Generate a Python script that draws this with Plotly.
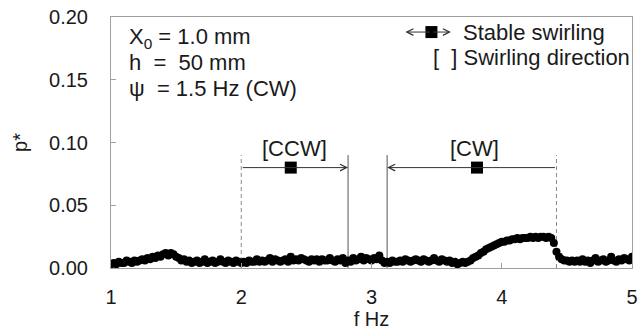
import plotly.graph_objects as go

# ---------------- data ----------------
f_start = 1.00
f_step = 0.02
p_star = [
    0.003, 0.004, 0.003, 0.005, 0.004, 0.004, 0.006, 0.005, 0.004, 0.006,
    0.005, 0.006, 0.007, 0.006, 0.008, 0.007, 0.009, 0.008, 0.010, 0.009,
    0.011, 0.012, 0.010, 0.012, 0.011, 0.009, 0.008, 0.006, 0.007, 0.005,
    0.006, 0.004, 0.005, 0.006, 0.004, 0.005, 0.007, 0.004, 0.005, 0.006,
    0.004, 0.005, 0.007, 0.005, 0.004, 0.006, 0.005, 0.004, 0.006, 0.005,
    0.004, 0.005, 0.004, 0.006, 0.005, 0.005, 0.007, 0.005, 0.006, 0.005,
    0.006, 0.008, 0.005, 0.007, 0.006, 0.005, 0.006, 0.007, 0.005, 0.009,
    0.006, 0.007, 0.006, 0.008, 0.007, 0.006, 0.005, 0.007, 0.006, 0.007,
    0.005, 0.007, 0.006, 0.006, 0.008, 0.006, 0.005, 0.007, 0.006, 0.008,
    0.004, 0.006, 0.005, 0.008, 0.006, 0.007, 0.009, 0.006, 0.008, 0.007,
    0.006, 0.008, 0.007, 0.010, 0.006, 0.004, 0.005, 0.004, 0.006, 0.005,
    0.005, 0.006, 0.005, 0.007, 0.006, 0.005, 0.006, 0.007, 0.006, 0.005,
    0.007, 0.006, 0.005, 0.006, 0.008, 0.006, 0.005, 0.007, 0.006, 0.005,
    0.006, 0.004, 0.005, 0.003, 0.004, 0.005, 0.004, 0.005, 0.006, 0.008,
    0.009, 0.010, 0.012, 0.013, 0.015, 0.016, 0.017, 0.018, 0.019, 0.020,
    0.021, 0.021, 0.022, 0.022, 0.023, 0.023, 0.024, 0.023, 0.024, 0.024,
    0.024, 0.025, 0.024, 0.025, 0.024, 0.025, 0.025, 0.024, 0.025, 0.024,
    0.020, 0.013, 0.009, 0.007, 0.006, 0.006, 0.005, 0.006, 0.005, 0.006,
    0.005, 0.007, 0.005, 0.006, 0.004, 0.006, 0.008, 0.005, 0.006, 0.007,
    0.005, 0.006, 0.009, 0.006, 0.005, 0.007, 0.006, 0.008, 0.007, 0.006,
    0.009,
]
f_hz = [round(f_start + i * f_step, 2) for i in range(len(p_star))]

# stable swirling ranges
ccw_range = [2.00, 2.82]
cw_range = [3.12, 4.42]
stable_f = [2.38, 3.81]
stable_p = [0.08, 0.08]
dir_labels = ["[CCW]", "[CW]"]
dir_label_f = [2.41, 3.79]
dir_label_p = 0.095
bound_top = 0.09

x_ticks = [1, 2, 3, 4, 5]
y_ticks = [0.00, 0.05, 0.10, 0.15, 0.20]
y_tick_text = ["0.00", "0.05", "0.10", "0.15", "0.20"]

FONT = "Liberation Sans, Arial, sans-serif"
TXT = "#1a1a1a"
FS = 20      # tick labels / axis titles
FA = 22      # annotation texts

fig = go.Figure()

# vertical boundaries
for xv, dash, col in [(ccw_range[0], "4px,3px", "#8a8a8a"), (ccw_range[1], "solid", "#555555"),
                      (cw_range[0], "solid", "#555555"), (cw_range[1], "4px,3px", "#8a8a8a")]:
    fig.add_trace(go.Scatter(x=[xv, xv], y=[0, bound_top], mode="lines",
                             line=dict(color=col, width=1, dash=dash),
                             hoverinfo="skip", showlegend=False))

# data
fig.add_trace(go.Scatter(x=f_hz, y=p_star, mode="markers",
                         marker=dict(symbol="circle", size=8, color="black"),
                         showlegend=False))

# horizontal arrows
fig.add_annotation(x=ccw_range[1], y=stable_p[0], ax=ccw_range[0], ay=stable_p[0],
                   xref="x", yref="y", axref="x", ayref="y", text="",
                   showarrow=True, arrowhead=5, arrowsize=1.3, arrowwidth=1, arrowcolor="#333333")
fig.add_annotation(x=cw_range[0], y=stable_p[1], ax=cw_range[1], ay=stable_p[1],
                   xref="x", yref="y", axref="x", ayref="y", text="",
                   showarrow=True, arrowhead=5, arrowsize=1.3, arrowwidth=1, arrowcolor="#333333")

# stable points
fig.add_trace(go.Scatter(x=stable_f, y=stable_p, mode="markers",
                         marker=dict(symbol="square", size=12, color="black"),
                         showlegend=False))

# direction labels
for lab, xf in zip(dir_labels, dir_label_f):
    fig.add_annotation(x=xf, y=dir_label_p, xref="x", yref="y", text=lab, showarrow=False,
                       font=dict(family=FONT, size=FA, color=TXT), yanchor="middle")

# legend sample: <-■->
leg_y = 0.188
leg_l, leg_c, leg_r = 3.26, 3.46, 3.61
fig.add_annotation(x=leg_l, y=leg_y, ax=leg_c, ay=leg_y, xref="x", yref="y", axref="x", ayref="y",
                   text="", showarrow=True, arrowhead=5, arrowsize=1.3, arrowwidth=1, arrowcolor="#333333")
fig.add_annotation(x=leg_r, y=leg_y, ax=leg_c, ay=leg_y, xref="x", yref="y", axref="x", ayref="y",
                   text="", showarrow=True, arrowhead=5, arrowsize=1.3, arrowwidth=1, arrowcolor="#333333")
fig.add_trace(go.Scatter(x=[leg_c], y=[leg_y], mode="markers",
                         marker=dict(symbol="square", size=12, color="black"), showlegend=False))
fig.add_annotation(x=3.69, y=leg_y, xref="x", yref="y", text="Stable swirling", showarrow=False,
                   xanchor="left", yanchor="middle", font=dict(family=FONT, size=FA, color=TXT))
fig.add_annotation(x=3.46, y=0.168, xref="x", yref="y",
                   text="[\u00a0\u00a0] Swirling direction", showarrow=False,
                   xanchor="left", yanchor="middle", font=dict(family=FONT, size=FA, color=TXT))

# condition text
cond = ["X<sub>0</sub> = 1.0 mm",
        "h\u00a0\u00a0=\u00a0\u00a050 mm",
        "\u03c8\u00a0\u00a0=\u00a01.5 Hz (CW)"]
cond_y = [0.916, 0.817, 0.717]
for t, yy in zip(cond, cond_y):
    fig.add_annotation(x=0.03, y=yy, xref="paper", yref="paper", text=t, showarrow=False,
                       xanchor="left", yanchor="middle", font=dict(family=FONT, size=FA, color=TXT))

axis_common = dict(showline=True, linecolor="#a0a0a0", linewidth=1, mirror=True,
                   ticks="inside", ticklen=5, tickcolor="#a0a0a0", showgrid=False, zeroline=False,
                   tickfont=dict(family=FONT, size=FS, color=TXT))

fig.update_xaxes(range=[1, 5], tickvals=x_ticks, ticktext=[str(v) for v in x_ticks],
                 title=dict(text="f Hz", font=dict(family=FONT, size=FS, color=TXT), standoff=2),
                 ticklabelstandoff=11, **axis_common)
fig.update_yaxes(range=[0, 0.2], tickvals=y_ticks, ticktext=y_tick_text,
                 title=dict(text="p*", font=dict(family=FONT, size=FS, color=TXT), standoff=16),
                 ticklabelstandoff=18, **axis_common)

fig.update_layout(width=644, height=330, margin=dict(l=111, r=6, t=17, b=62),
                  paper_bgcolor="white", plot_bgcolor="white", showlegend=False)

fig.write_html("out.html")
